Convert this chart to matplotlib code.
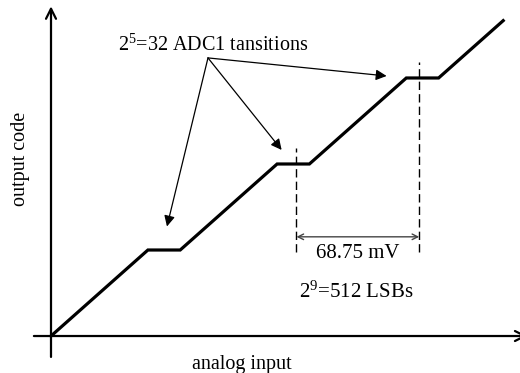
import matplotlib
matplotlib.use("Agg")
import matplotlib.pyplot as plt

plt.rcParams['font.family'] = ['Liberation Serif', 'DejaVu Serif']
plt.rcParams['mathtext.fontset'] = 'custom'
plt.rcParams['mathtext.rm'] = 'Liberation Serif'
plt.rcParams['mathtext.default'] = 'regular'

# transfer characteristic (schematic units)
analog_in = [0, 3, 4, 7, 8, 11, 12, 14]
out_code = [0, 3, 3, 6, 6, 9, 9, 11]
flat_mid_x = [7.6, 11.4]          # dashed marker positions
flat_level = [6, 9]
label_top = "2$^{5}$=32 ADC1 tansitions"
label_span = "68.75 mV"
label_lsb = "2$^{9}$=512 LSBs"
xlabel = "analog input"
ylabel = "output code"

fig = plt.figure(figsize=(5.2, 3.73), dpi=100)
ax = fig.add_axes([0, 0, 1, 1])
ax.set_xlim(-1.579, 14.52)
ax.set_ylim(-1.29, 11.72)
ax.axis('off')

# axes with arrows
ax.annotate('', xy=(14.75, 0), xytext=(-0.53, 0), annotation_clip=False,
            arrowprops=dict(arrowstyle='->', lw=1.6, color='black',
                            mutation_scale=18, shrinkA=0, shrinkB=0))
ax.annotate('', xy=(0, 11.5), xytext=(0, -0.73), annotation_clip=False,
            arrowprops=dict(arrowstyle='->', lw=1.6, color='black',
                            mutation_scale=18, shrinkA=0, shrinkB=0))

# main curve
ax.plot(analog_in, out_code, color='black', lw=2.3, solid_joinstyle='miter')

# dashed markers
for xm, lv in zip(flat_mid_x, flat_level):
    ax.plot([xm, xm], [2.94, lv + 0.57], color='black', lw=1.0,
            linestyle=(0, (6, 3)))

# dimension arrow
ax.annotate('', xy=(flat_mid_x[1], 3.46), xytext=(flat_mid_x[0], 3.46),
            arrowprops=dict(arrowstyle='<->', lw=1.0, color='#444444',
                            mutation_scale=10, shrinkA=0, shrinkB=0))
ax.text((flat_mid_x[0] + flat_mid_x[1]) / 2, 2.88, label_span,
        ha='center', va='center', fontsize=15)
ax.text((flat_mid_x[0] + flat_mid_x[1]) / 2 - 0.05, 1.53, label_lsb,
        ha='center', va='center', fontsize=15)

# top label and pointer arrows
ax.text(5.03, 10.15, label_top, ha='center', va='center', fontsize=14.5)
src = (4.86, 9.7)
targets = [(3.59, 3.82), (7.14, 6.49), (10.39, 9.07)]
for t in targets:
    ax.annotate('', xy=t, xytext=src,
                arrowprops=dict(arrowstyle='-|>', lw=0.9, color='black',
                                mutation_scale=16, shrinkA=0, shrinkB=0))

ax.text(5.9, -1.0, xlabel, ha='center', va='center', fontsize=14.5)
ax.text(-0.93, 6.19, ylabel, ha='center', va='center', fontsize=14.5,
        rotation=90)

fig.savefig('out.png', dpi=100)
